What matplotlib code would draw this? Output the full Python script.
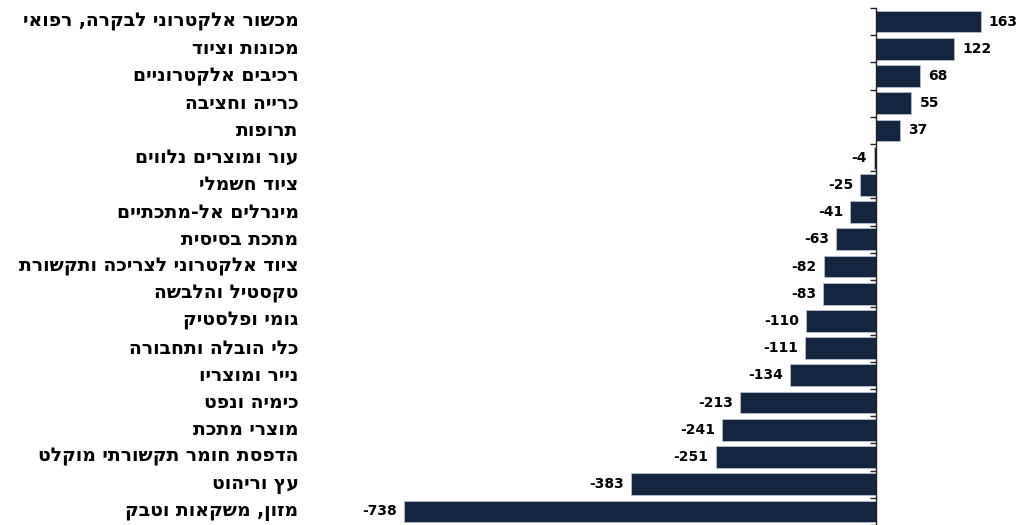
import matplotlib.pyplot as plt

# ענפים (סדר מלמעלה למטה) והשינוי בכל ענף
ענפים = [
    'מכשור אלקטרוני לבקרה, רפואי',
    'מכונות וציוד',
    'רכיבים אלקטרוניים',
    'כרייה וחציבה',
    'תרופות',
    'עור ומוצרים נלווים',
    'ציוד חשמלי',
    'מינרלים אל-מתכתיים',
    'מתכת בסיסית',
    'ציוד אלקטרוני לצריכה ותקשורת',
    'טקסטיל והלבשה',
    'גומי ופלסטיק',
    'כלי הובלה ותחבורה',
    'נייר ומוצריו',
    'כימיה ונפט',
    'מוצרי מתכת',
    'הדפסת חומר תקשורתי מוקלט',
    'עץ וריהוט',
    'מזון, משקאות וטבק',
]
ערכים = [163, 122, 68, 55, 37, -4, -25, -41, -63, -82, -83, -110, -111, -134,
         -213, -241, -251, -383, -738]


def rtl(s):
    # matplotlib draws left to right, so flip the Hebrew into visual order
    return s[::-1]


plt.rcParams['font.family'] = ['DejaVu Sans']

W, H = 1019, 525
fig = plt.figure(figsize=(W / 100, H / 100), dpi=100)
ax = fig.add_axes([300 / W, 0, 719 / W, 1 - 8 / H])

y = list(range(len(ענפים)))
ax.barh(y, ערכים, height=0.8, color='#13253f', edgecolor='#b8bfcc', linewidth=0.6)

ax.set_xlim(-900, 223)
ax.set_ylim(len(ענפים) - 0.5, -0.5)

for s in ['top', 'right', 'bottom']:
    ax.spines[s].set_visible(False)
ax.spines['left'].set_position(('data', 0))
ax.spines['left'].set_color('#222222')
ax.spines['left'].set_linewidth(1.0)
ax.set_xticks([])
ax.set_yticks([i - 0.5 for i in range(len(ענפים) + 1)])
ax.set_yticklabels([])
ax.tick_params(axis='y', direction='out', length=4, width=1, color='#222222')

for i, (name, v) in enumerate(zip(ענפים, ערכים)):
    ax.text(-0.002, i, rtl(name), transform=ax.get_yaxis_transform(), ha='right',
            va='center', fontsize=13.5, fontweight='bold', color='black')
    if v >= 0:
        ax.annotate(str(v), (v, i), xytext=(6, 0), textcoords='offset points',
                    ha='left', va='center', fontsize=10, fontweight='bold')
    else:
        ax.annotate(str(v), (v, i), xytext=(-5, 0), textcoords='offset points',
                    ha='right', va='center', fontsize=10, fontweight='bold')

fig.savefig('out.png', dpi=100)
